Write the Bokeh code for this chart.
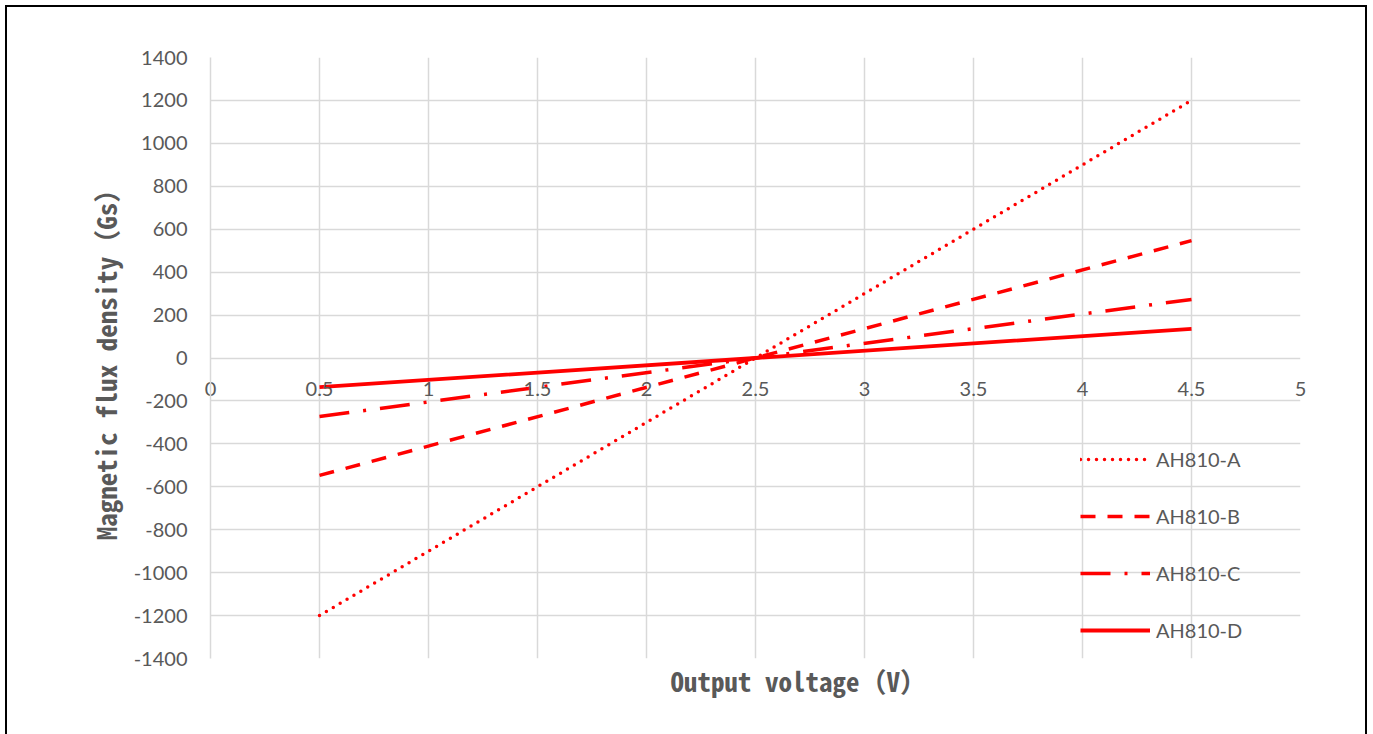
from bokeh.plotting import figure
from bokeh.models import FixedTicker, Range1d, Title, Legend
from bokeh.embed import file_html
from bokeh.resources import INLINE

# ---- data ----
voltage = [0.5, 2.5, 4.5]
ah810_a = [-1200, 0, 1200]
ah810_b = [-547, 0, 547]
ah810_c = [-273, 0, 273]
ah810_d = [-136, 0, 136]
series_names = ["AH810-A", "AH810-B", "AH810-C", "AH810-D"]

x_ticks = [0, 0.5, 1, 1.5, 2, 2.5, 3, 3.5, 4, 4.5, 5]
x_tick_labels = ["0", "0.5", "1", "1.5", "2", "2.5", "3", "3.5", "4", "4.5", "5"]
y_ticks = [-1400, -1200, -1000, -800, -600, -400, -200, 0, 200, 400, 600, 800, 1000, 1200, 1400]
y_tick_labels = ["-1400", "-1200", "-1000", "-800", "-600", "-400", "-200", "0",
                 "200", "400", "600", "800", "1000", "1200", "1400"]

x_title = "Output voltage（V）"
y_title = "Magnetic flux density（Gs）"

# ---- style ----
GRID = "#d9d9d9"
TXT = "#595959"
RED = "#ff0000"
TICK_FONT = "Lato"
TITLE_FONT = "Noto Sans Mono CJK SC, DejaVu Sans Mono, monospace"

p = figure(width=1358, height=727, output_backend="svg", toolbar_location=None,
           x_range=Range1d(0, 5), y_range=Range1d(-1400, 1400),
           min_border_left=203, min_border_right=65, min_border_top=50, min_border_bottom=76)
p.outline_line_color = None
p.background_fill_color = "white"
p.border_fill_color = "white"
# chart-area border (its bottom edge falls just below the picture)
p.styles = {"outline": "2px solid black", "margin-left": "7px", "margin-top": "7px"}

# grid
p.xgrid.ticker = FixedTicker(ticks=x_ticks)
p.ygrid.ticker = FixedTicker(ticks=y_ticks)
for g in (p.xgrid, p.ygrid):
    g.grid_line_color = GRID
    g.grid_line_width = 1.5

# x axis: tick labels lifted up to sit just under the y = 0 line
xa = p.xaxis[0]
xa.ticker = FixedTicker(ticks=x_ticks)
xa.major_label_overrides = {t: l for t, l in zip(x_ticks, x_tick_labels)}
xa.axis_line_color = None
xa.major_tick_line_color = None
xa.minor_tick_line_color = None
xa.major_label_standoff = -283
xa.major_label_text_font = TICK_FONT
xa.major_label_text_font_size = "20px"
xa.major_label_text_color = TXT

ya = p.yaxis[0]
ya.ticker = FixedTicker(ticks=y_ticks)
ya.major_label_overrides = {t: l for t, l in zip(y_ticks, y_tick_labels)}
ya.axis_line_color = GRID
ya.axis_line_width = 1.5
ya.major_tick_line_color = None
ya.minor_tick_line_color = None
ya.major_label_standoff = 17
ya.major_label_text_font = TICK_FONT
ya.major_label_text_font_size = "20px"
ya.major_label_text_color = TXT
ya.axis_label = y_title
ya.axis_label_text_font = TITLE_FONT
ya.axis_label_text_font_size = "27px"
ya.axis_label_text_font_style = "bold"
ya.axis_label_text_color = TXT
ya.axis_label_standoff = 6

p.add_layout(Title(text=x_title, align="left", offset=460,
                   text_font=TITLE_FONT, text_font_size="27px",
                   text_font_style="bold", text_color=TXT, standoff=0), "below")

# lines
ra = p.line(voltage, ah810_a, line_color=RED, line_width=3.5, line_dash="0 8",
            line_cap="round")
rb = p.line(voltage, ah810_b, line_color=RED, line_width=3.5, line_dash="15 12")
rc = p.line(voltage, ah810_c, line_color=RED, line_width=3.5, line_dash="30 14 3 14")
rd = p.line(voltage, ah810_d, line_color=RED, line_width=3.8)

legend = Legend(items=[(series_names[0], [ra]), (series_names[1], [rb]),
                       (series_names[2], [rc]), (series_names[3], [rd])],
                location=(870, 16), padding=0, margin=0,
                border_line_color=None, background_fill_alpha=0,
                glyph_width=70, glyph_height=20, label_height=20, spacing=33,
                label_standoff=6, label_text_font=TICK_FONT,
                label_text_font_size="20px", label_text_color=TXT)
p.add_layout(legend)

open("out.html", "w").write(file_html(p, INLINE))
